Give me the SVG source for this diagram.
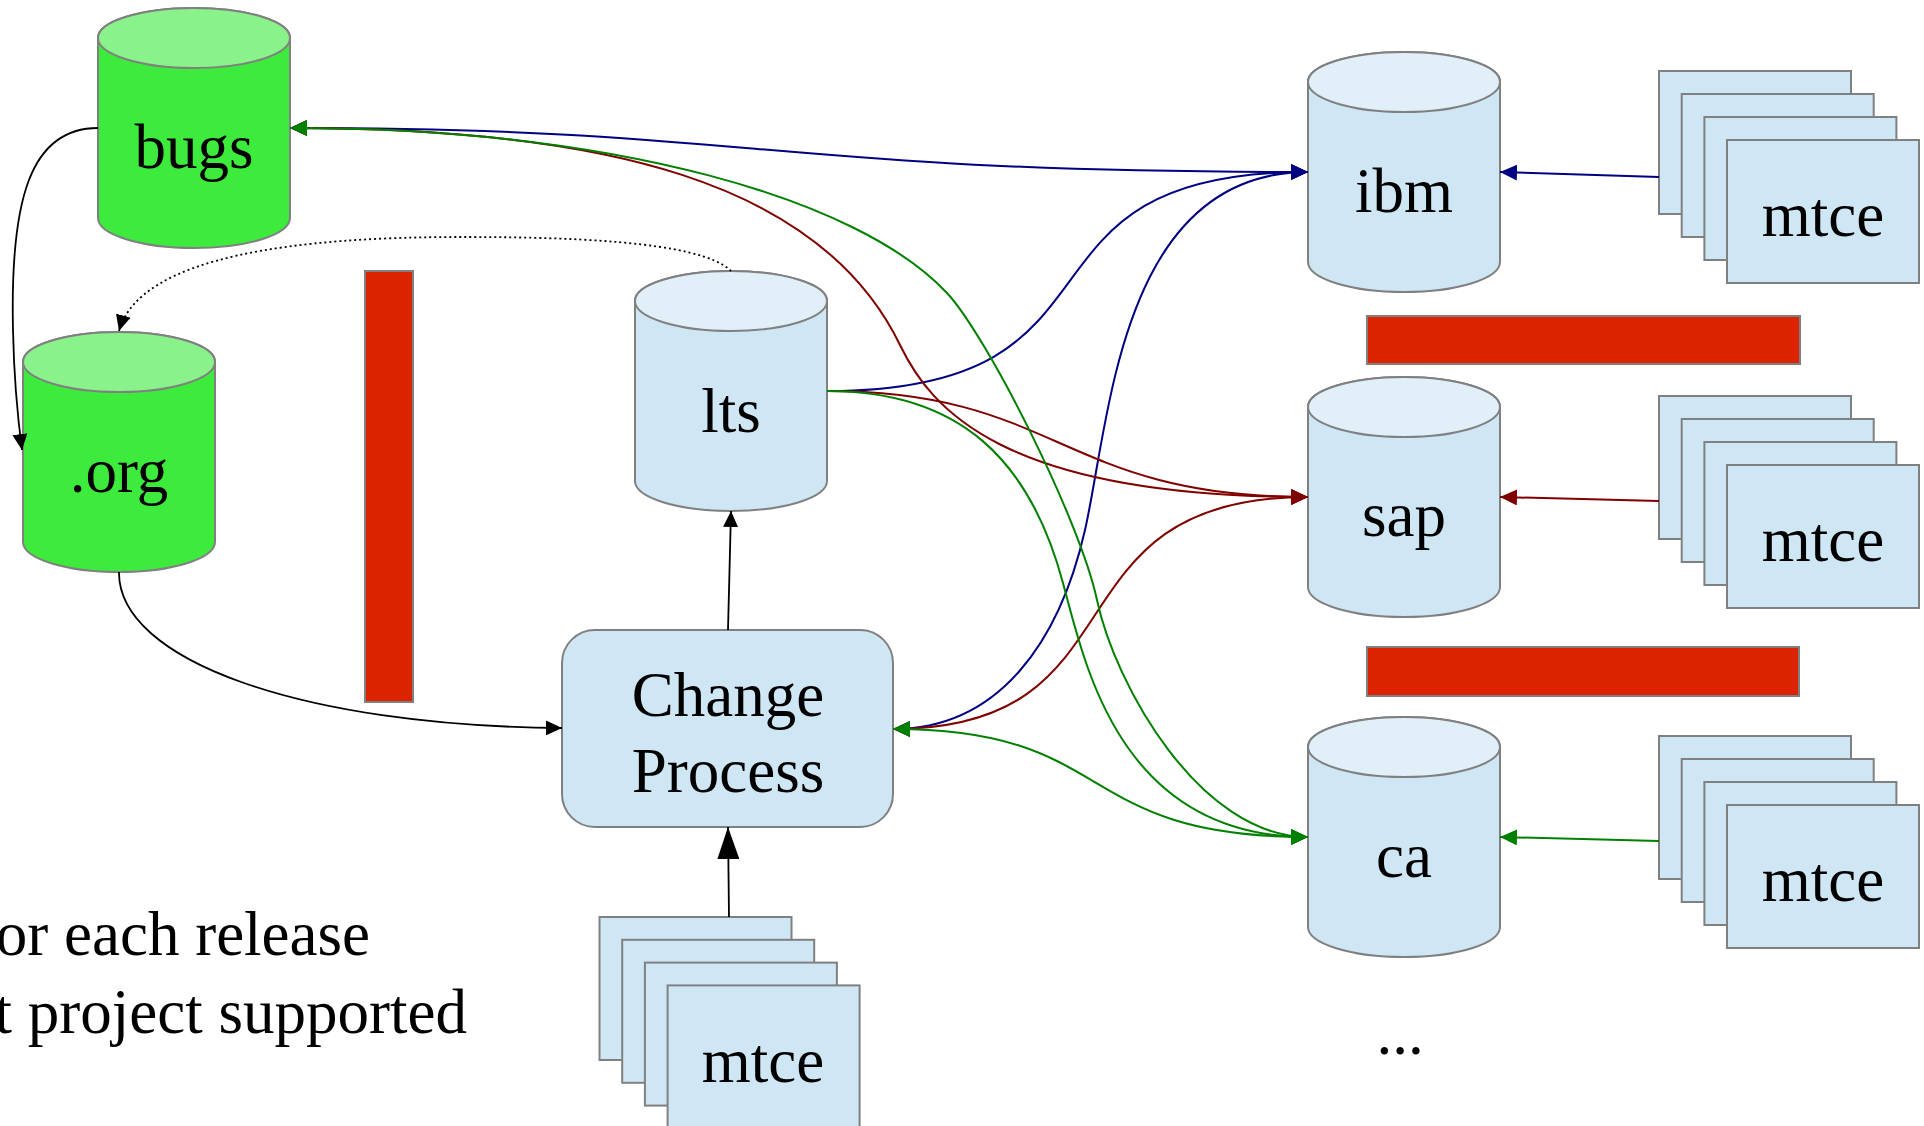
<svg xmlns="http://www.w3.org/2000/svg" width="1924" height="1126" viewBox="0 0 1924 1126">
<style>
  .cyl { fill: #cfe7f5; stroke: #808080; stroke-width: 2; }
  .cyltop { fill: #e1eff9; stroke: #808080; stroke-width: 2; }
  .gcyl { fill: #3deb3d; stroke: #808080; stroke-width: 2; }
  .gcyltop { fill: #8af28a; stroke: #808080; stroke-width: 2; }
  .box { fill: #cfe7f5; stroke: #808080; stroke-width: 2; }
  .bar { fill: #dc2300; stroke: #808080; stroke-width: 2; }
  .lbl { font-family: "Liberation Serif", "Times New Roman", serif; font-size: 63px; fill: #000; text-anchor: middle; }
  .note { font-family: "Liberation Serif", "Times New Roman", serif; font-size: 63px; fill: #000; text-anchor: end; }
  .cb { fill: none; stroke: #000080; stroke-width: 2; }
  .cr { fill: none; stroke: #800000; stroke-width: 2; }
  .cg { fill: none; stroke: #008000; stroke-width: 2; }
  .ck { fill: none; stroke: #000; stroke-width: 1.8; }
</style>
<defs>
  <marker id="ab" markerUnits="userSpaceOnUse" markerWidth="17" markerHeight="16" refX="17" refY="8" orient="auto-start-reverse"><path d="M0,0 L17,8 L0,16 Z" fill="#000080"/></marker>
  <marker id="ar" markerUnits="userSpaceOnUse" markerWidth="17" markerHeight="16" refX="17" refY="8" orient="auto-start-reverse"><path d="M0,0 L17,8 L0,16 Z" fill="#800000"/></marker>
  <marker id="ag" markerUnits="userSpaceOnUse" markerWidth="17" markerHeight="16" refX="17" refY="8" orient="auto-start-reverse"><path d="M0,0 L17,8 L0,16 Z" fill="#008000"/></marker>
  <marker id="ak" markerUnits="userSpaceOnUse" markerWidth="16" markerHeight="15" refX="16" refY="7.5" orient="auto"><path d="M0,0 L16,7.5 L0,15 Z" fill="#000"/></marker>
  <marker id="akb" markerUnits="userSpaceOnUse" markerWidth="32" markerHeight="22" refX="32" refY="11" orient="auto"><path d="M0,0 L32,11 L0,22 Z" fill="#000"/></marker>
</defs>
<rect width="1924" height="1126" fill="#fff"/>

<!-- red separator bars -->
<g id="bar-vertical"><rect class="bar" x="365" y="271" width="48" height="431"/></g>
<g id="bar-h1"><rect class="bar" x="1367" y="316" width="433" height="48"/></g>
<g id="bar-h2"><rect class="bar" x="1367" y="647" width="432" height="49"/></g>

<!-- cylinders -->
<g id="bugs">
  <path class="gcyl" d="M98,38 A96,30 0 0 1 290,38 V218 A96,30 0 0 1 98,218 Z"/>
  <ellipse class="gcyltop" cx="194" cy="38" rx="96" ry="30"/>
  <text class="lbl" x="194" y="168">bugs</text>
</g>
<g id="org">
  <path class="gcyl" d="M23,362 A96,30 0 0 1 215,362 V542 A96,30 0 0 1 23,542 Z"/>
  <ellipse class="gcyltop" cx="119" cy="362" rx="96" ry="30"/>
  <text class="lbl" x="119" y="492">.org</text>
</g>
<g id="lts">
  <path class="cyl" d="M635,301 A96,30 0 0 1 827,301 V481 A96,30 0 0 1 635,481 Z"/>
  <ellipse class="cyltop" cx="731" cy="301" rx="96" ry="30"/>
  <text class="lbl" x="731" y="432">lts</text>
</g>
<g id="ibm">
  <path class="cyl" d="M1308,82 A96,30 0 0 1 1500,82 V262 A96,30 0 0 1 1308,262 Z"/>
  <ellipse class="cyltop" cx="1404" cy="82" rx="96" ry="30"/>
  <text class="lbl" x="1404" y="212">ibm</text>
</g>
<g id="sap">
  <path class="cyl" d="M1308,407 A96,30 0 0 1 1500,407 V587 A96,30 0 0 1 1308,587 Z"/>
  <ellipse class="cyltop" cx="1404" cy="407" rx="96" ry="30"/>
  <text class="lbl" x="1404" y="536">sap</text>
</g>
<g id="ca">
  <path class="cyl" d="M1308,747 A96,30 0 0 1 1500,747 V927 A96,30 0 0 1 1308,927 Z"/>
  <ellipse class="cyltop" cx="1404" cy="747" rx="96" ry="30"/>
  <text class="lbl" x="1404" y="877">ca</text>
</g>

<!-- change process -->
<g id="change-process">
  <rect class="box" x="562" y="630" width="331" height="197" rx="33" ry="33"/>
  <text class="lbl" x="728" y="716">Change</text>
  <text class="lbl" x="728" y="792">Process</text>
</g>

<!-- mtce stacks -->
<g id="mtce-bottom">
  <rect class="box" x="599.5" y="917" width="192" height="143"/>
  <rect class="box" x="622.2" y="939.8" width="192" height="143"/>
  <rect class="box" x="644.9" y="962.6" width="192" height="143"/>
  <rect class="box" x="667.6" y="985.4" width="192" height="143"/>
  <text class="lbl" x="763" y="1082">mtce</text>
</g>
<g id="mtce-ibm">
  <rect class="box" x="1659" y="71" width="192" height="143"/>
  <rect class="box" x="1681.7" y="94" width="192" height="143"/>
  <rect class="box" x="1704.4" y="117" width="192" height="143"/>
  <rect class="box" x="1727" y="140" width="192" height="143"/>
  <text class="lbl" x="1823" y="236">mtce</text>
</g>
<g id="mtce-sap">
  <rect class="box" x="1659" y="396" width="192" height="143"/>
  <rect class="box" x="1681.7" y="419" width="192" height="143"/>
  <rect class="box" x="1704.4" y="442" width="192" height="143"/>
  <rect class="box" x="1727" y="465" width="192" height="143"/>
  <text class="lbl" x="1823" y="561">mtce</text>
</g>
<g id="mtce-ca">
  <rect class="box" x="1659" y="736" width="192" height="143"/>
  <rect class="box" x="1681.7" y="759" width="192" height="143"/>
  <rect class="box" x="1704.4" y="782" width="192" height="143"/>
  <rect class="box" x="1727" y="805" width="192" height="143"/>
  <text class="lbl" x="1823" y="901">mtce</text>
</g>

<g id="ellipsis"><text class="lbl" x="1400" y="1054">...</text></g>
<g id="note">
  <text class="note" x="370" y="955">or each release</text>
  <text class="note" x="467" y="1033">t project supported</text>
</g>

<!-- connectors -->
<g id="connectors">
  <path class="ck" d="M98,128 C30,128 10,200 13,330 C14,380 18,420 22,450" marker-end="url(#ak)"/>
  <path class="ck" d="M731,271 C700,240 560,237 460,237 C300,237 140,255 119,331" stroke-dasharray="2,3" marker-end="url(#ak)"/>
  <path class="ck" d="M119,572 C118,660 300,726 562,728" marker-end="url(#ak)"/>
  <path class="ck" d="M728,630 L731,511" marker-end="url(#ak)"/>
  <path class="ck" d="M729,917 L728,827" marker-end="url(#akb)"/>

  <path class="cb" d="M290,128 C760,128 760,172 1308,172" marker-start="url(#ab)" marker-end="url(#ab)"/>
  <path class="cb" d="M827,391 C1150,391 990,172 1308,172" marker-end="url(#ab)"/>
  <path class="cb" d="M893,729 C1000,729 1060,640 1085,530 C1110,420 1120,172 1308,172" marker-start="url(#ab)" marker-end="url(#ab)"/>
  <path class="cb" d="M1659,177 L1500,172" marker-end="url(#ab)"/>

  <path class="cr" d="M290,128 C600,128 820,180 900,345 C930,407 1000,497 1308,497" marker-start="url(#ar)" marker-end="url(#ar)"/>
  <path class="cr" d="M827,391 C1060,391 1060,497 1308,497" marker-end="url(#ar)"/>
  <path class="cr" d="M893,729 C1150,729 1040,497 1308,497" marker-start="url(#ar)" marker-end="url(#ar)"/>
  <path class="cr" d="M1659,501 L1500,497" marker-end="url(#ar)"/>

  <path class="cg" d="M290,128 C620,128 860,200 947,293 C987,336 1080,520 1097,600 C1115,685 1200,837 1308,837" marker-start="url(#ag)" marker-end="url(#ag)"/>
  <path class="cg" d="M827,391 C960,391 1030,460 1063,583 C1085,665 1120,837 1308,837" marker-end="url(#ag)"/>
  <path class="cg" d="M893,729 C1120,729 1070,837 1308,837" marker-start="url(#ag)" marker-end="url(#ag)"/>
  <path class="cg" d="M1659,841 L1500,837" marker-end="url(#ag)"/>
</g>
</svg>
